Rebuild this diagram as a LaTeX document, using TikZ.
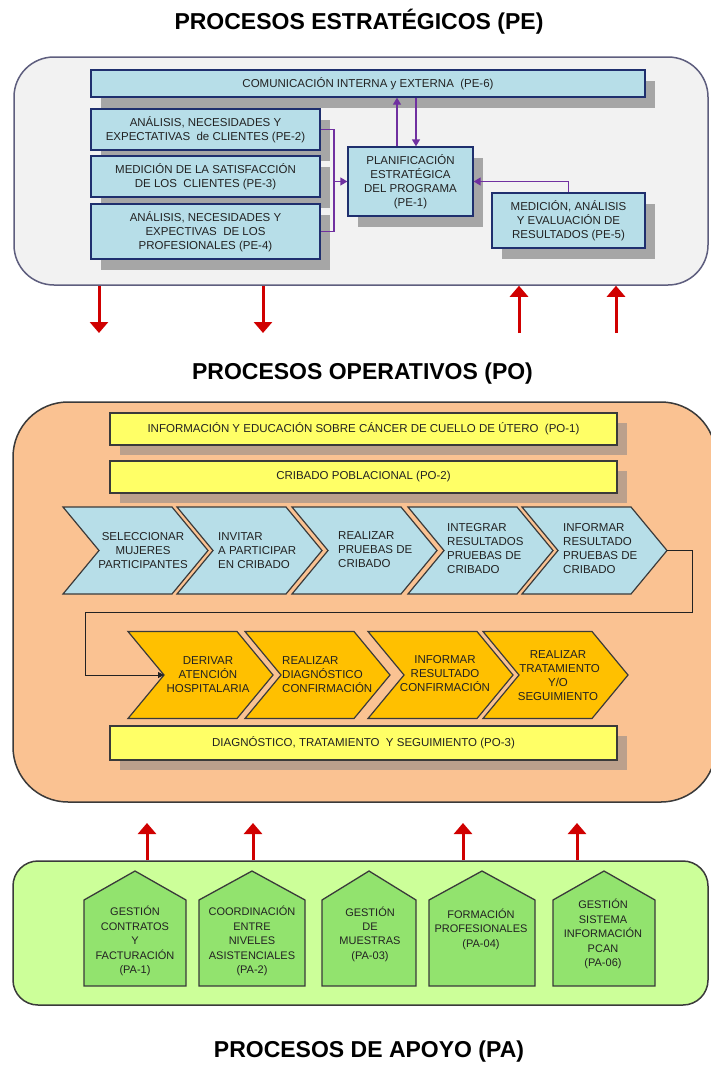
\documentclass[tikz,border=0pt]{standalone}
\usepackage{fontspec}
\setmainfont{Liberation Sans}
\usetikzlibrary{arrows.meta,shadows}
\definecolor{txt}{HTML}{222222}
\definecolor{peframe}{HTML}{F2F2F2}
\definecolor{peframeborder}{HTML}{5E5E7E}
\definecolor{pecyan}{HTML}{B7DEE8}
\definecolor{navy}{HTML}{1F2F6E}
\definecolor{shgray}{HTML}{A6A6A6}
\definecolor{shbrown}{HTML}{BBA08C}
\definecolor{poframe}{HTML}{FAC292}
\definecolor{yel}{HTML}{FFFF66}
\definecolor{orng}{HTML}{FFC000}
\definecolor{paframe}{HTML}{CCFF99}
\definecolor{pagreen}{HTML}{92E36E}
\definecolor{purp}{HTML}{7030A0}
\definecolor{redarr}{HTML}{D00000}
\definecolor{dk}{HTML}{3A3A3A}
\newcommand{\mychev}[4]{%
  \draw[#4] (#2,#3-43.5) -- ++(109,0) -- ++(36,43.5) -- ++(-36,43.5) -- ++(-109,0) -- ++(36,-43.5) -- cycle;
  \coordinate (#1-tip) at (#2+145,#3);
  \coordinate (#1-notch) at (#2+36,#3);}
\newcommand{\myhouse}[3]{%
  \draw[#3] (#1,986) -- (#1,900) -- ({(#1+#2)/2},871) -- (#2,900) -- (#2,986) -- cycle;}
\begin{document}
\begin{tikzpicture}[x=1pt,y=-1pt,
  title/.style={font=\bfseries\fontsize{23}{26}\selectfont, text=black, inner sep=0pt},
  frame/.style={line width=1.5pt, inner sep=0pt},
  pebox/.style={draw=navy, line width=1.3pt, fill=pecyan, text=txt, align=center,
    inner sep=1pt, font=\fontsize{11.5}{14}\selectfont,
    drop shadow={shadow xshift=10pt, shadow yshift=-11pt, fill=shgray, opacity=1}},
  ybox/.style={draw=dk, line width=1.3pt, fill=yel, text=txt, align=center,
    inner sep=1pt, font=\fontsize{11.5}{14}\selectfont,
    minimum width=507pt,
    drop shadow={shadow xshift=10pt, shadow yshift=-10pt, fill=shbrown, opacity=1}},
  cyanchev/.style={draw=dk, line width=1.2pt, fill=pecyan},
  orchev/.style={draw=dk, line width=1.2pt, fill=orng},
  house/.style={draw=dk, line width=1.3pt, fill=pagreen},
  ctext/.style={text=txt, inner sep=0pt, font=\fontsize{11.5}{14}\selectfont},
  htext/.style={text=txt, inner sep=0pt, align=center, font=\fontsize{11}{14.4}\selectfont},
  parr/.style={draw=purp, line width=1.3pt, -{Triangle[width=8pt,length=7pt]}},
  pconn/.style={draw=purp, line width=1.5pt},
  rarr/.style={draw=redarr, line width=3pt, -{Triangle[width=18pt,length=11pt]}},
  barr/.style={draw=txt, line width=1pt, -{Triangle[width=6pt,length=6pt]}}]
\useasboundingbox (0,0) rectangle (710,1066);
\fill[white] (0,0) rectangle (710,1066);

% ---------- titles ----------
\node[title] (tpe) at (359,22) {PROCESOS ESTRATÉGICOS (PE)};
\node[title] (tpo) at (362.5,374) {PROCESOS OPERATIVOS (PO)};
\node[title] (tpa) at (369,1052) {PROCESOS DE APOYO (PA)};

% ---------- PE ----------
\node[frame, draw=peframeborder, fill=peframe, rounded corners=40pt,
  minimum width=694pt, minimum height=228pt] (peF) at (361,171) {};
\node[pebox, minimum width=554pt, minimum height=27pt] (pe6) at (368,83.5)
  {COMUNICACIÓN INTERNA y EXTERNA \ (PE-6)};
\node[pebox, minimum width=229pt, minimum height=41pt] (pe2) at (205.5,129.5)
  {ANÁLISIS, NECESIDADES Y\\EXPECTATIVAS \ de CLIENTES (PE-2)};
\node[pebox, minimum width=229pt, minimum height=41pt] (pe3) at (205.5,176.5)
  {MEDICIÓN DE LA SATISFACCIÓN\\DE LOS \ CLIENTES (PE-3)};
\node[pebox, minimum width=229pt, minimum height=55pt] (pe4) at (205.5,231.5)
  {ANÁLISIS, NECESIDADES Y\\EXPECTIVAS \ DE LOS\\PROFESIONALES (PE-4)};
\node[pebox, minimum width=125pt, minimum height=69pt] (pe1) at (410.5,181.5)
  {PLANIFICACIÓN\\ESTRATÉGICA\\DEL PROGRAMA\\(PE-1)};
\node[pebox, minimum width=153pt, minimum height=55pt] (pe5) at (568.5,220.5)
  {MEDICIÓN, ANÁLISIS\\Y EVALUACIÓN DE\\RESULTADOS (PE-5)};

\coordinate (jt) at (334,129.5);
\coordinate (jb) at (334,231.5);
\coordinate (jn) at (334,181.5);
\draw[pconn] (pe2.east) -- (jt) -- (jb) -- (pe4.east);
\draw[parr] (jn) -- (pe1.west);
\draw[parr] ([xshift=-13.5pt]pe1.north) -- ([xshift=-13.5pt]pe1.north |- pe6.south);
\draw[parr] ([xshift=5.5pt]pe1.north |- pe6.south) -- ([xshift=5.5pt]pe1.north);
\draw[parr] (pe5.north) |- (pe1.east);

% red arrows PE
\coordinate (d1) at (99,333);
\coordinate (d2) at (263,333);
\coordinate (u1) at (519,333);
\coordinate (u2) at (616,333);
\draw[rarr] (d1 |- peF.south) -- (d1);
\draw[rarr] (d2 |- peF.south) -- (d2);
\draw[rarr] (u1) -- (u1 |- peF.south);
\draw[rarr] (u2) -- (u2 |- peF.south);

% ---------- PO ----------
\node[frame, draw=dk, fill=poframe, rounded corners=55pt,
  minimum width=703pt, minimum height=400pt] (poF) at (364.5,602) {};
\node[ybox, minimum height=32pt] (po1) at (363.5,429)
  {INFORMACIÓN Y EDUCACIÓN SOBRE CÁNCER DE CUELLO DE ÚTERO \ (PO-1)};
\node[ybox, minimum height=32pt] (po2) at (363.5,477)
  {CRIBADO POBLACIONAL (PO-2)};
\node[ybox, minimum height=34pt] (po3) at (363.5,743)
  {DIAGNÓSTICO, TRATAMIENTO \ Y SEGUIMIENTO (PO-3)};

\mychev{ch1}{63}{550.5}{cyanchev}
\mychev{ch2}{177}{550.5}{cyanchev}
\mychev{ch3}{292}{550.5}{cyanchev}
\mychev{ch4}{408}{550.5}{cyanchev}
\mychev{ch5}{522}{550.5}{cyanchev}
\node[ctext, align=center] (c1) at (143,551) {SELECCIONAR\\MUJERES\\PARTICIPANTES};
\node[ctext, align=left, anchor=west] (c2) at (218,551) {INVITAR\\A PARTICIPAR\\EN CRIBADO};
\node[ctext, align=left, anchor=west] (c3) at (338,550) {REALIZAR\\PRUEBAS DE\\CRIBADO};
\node[ctext, align=left, anchor=west] (c4) at (447,549) {INTEGRAR\\RESULTADOS\\PRUEBAS DE\\CRIBADO};
\node[ctext, align=left, anchor=west] (c5) at (563,549) {INFORMAR\\RESULTADO\\PRUEBAS DE\\CRIBADO};

\mychev{ch6}{128}{675}{orchev}
\mychev{ch7}{245}{675}{orchev}
\mychev{ch8}{368}{675}{orchev}
\mychev{ch9}{483}{675}{orchev}
\node[ctext, align=center] (c6) at (208,675) {DERIVAR\\ATENCIÓN\\HOSPITALARIA};
\node[ctext, align=left, anchor=west] (c7) at (282,675) {REALIZAR\\DIAGNÓSTICO\\CONFIRMACIÓN};
\node[ctext, align=center] (c8) at (445,674) {INFORMAR\\RESULTADO\\CONFIRMACIÓN};
\node[ctext, align=center] (c9) at (558,676) {REALIZAR\\ \ TRATAMIENTO\\Y/O\\SEGUIMIENTO};

\coordinate (k1) at (692,612);
\coordinate (k2) at (85,612);
\draw[barr] (ch5-tip) -| (k1) -- (k2) |- (ch6-notch);

% ---------- PA ----------
\node[frame, draw=dk, fill=paframe, rounded corners=25pt,
  minimum width=695pt, minimum height=144pt] (paF) at (360.5,933) {};
\myhouse{84}{186}{house}
\myhouse{199}{305}{house}
\myhouse{322}{416}{house}
\myhouse{429}{535}{house}
\myhouse{553}{655}{house}
\node[htext] (p1) at (135,941) {GESTIÓN\\CONTRATOS\\Y\\FACTURACIÓN\\(PA-1)};
\node[htext] (p2) at (252,941) {COORDINACIÓN\\ENTRE\\NIVELES\\ASISTENCIALES\\(PA-2)};
\node[htext] (p3) at (370,934) {GESTIÓN\\DE\\MUESTRAS\\(PA-03)};
\node[htext] (p4) at (481,929) {FORMACIÓN\\PROFESIONALES\\(PA-04)};
\node[htext] (p5) at (603,934) {GESTIÓN\\SISTEMA\\INFORMACIÓN\\PCAN\\(PA-06)};

% red arrows PA -> PO
\coordinate (v1) at (147,823);
\coordinate (v2) at (253,823);
\coordinate (v3) at (463,823);
\coordinate (v4) at (577,823);
\draw[rarr] (v1 |- paF.north) -- (v1);
\draw[rarr] (v2 |- paF.north) -- (v2);
\draw[rarr] (v3 |- paF.north) -- (v3);
\draw[rarr] (v4 |- paF.north) -- (v4);
\end{tikzpicture}
\end{document}
